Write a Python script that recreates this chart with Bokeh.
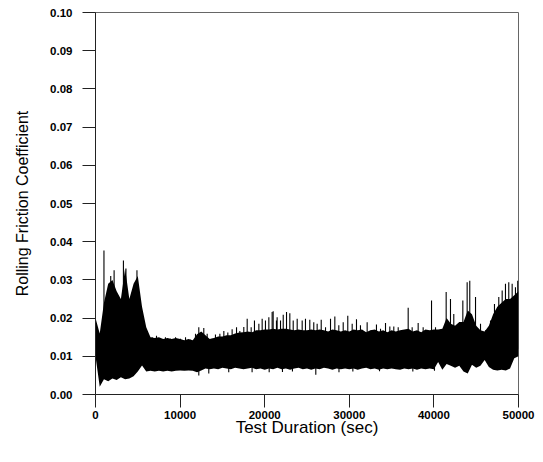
from bokeh.plotting import figure
from bokeh.embed import file_html
from bokeh.resources import INLINE
from bokeh.models import FixedTicker, PrintfTickFormatter, NumeralTickFormatter, Range1d

time_s = list(range(0, 50001, 500))
upper = [0.020, 0.016, 0.024, 0.029, 0.030, 0.027, 0.025, 0.033, 0.025, 0.029,
         0.031, 0.023, 0.0176, 0.015, 0.0148, 0.015, 0.0145, 0.0148, 0.0145, 0.0148,
         0.0145, 0.0142, 0.0145, 0.0142, 0.0158, 0.0165, 0.0155, 0.0145, 0.0148, 0.0152,
         0.0152, 0.0155, 0.0155, 0.016, 0.0162, 0.0163, 0.0165, 0.0163, 0.0168, 0.0168,
         0.017, 0.017, 0.0172, 0.017, 0.0172, 0.0172, 0.017, 0.0168, 0.017, 0.0168,
         0.0168, 0.017, 0.0168, 0.017, 0.0168, 0.0165, 0.017, 0.0168, 0.0165, 0.0168,
         0.0165, 0.017, 0.0168, 0.017, 0.0163, 0.0168, 0.017, 0.0165, 0.0168, 0.0163,
         0.0168, 0.0165, 0.0168, 0.017, 0.0172, 0.0165, 0.0168, 0.0163, 0.017, 0.0168,
         0.017, 0.017, 0.0172, 0.020, 0.0185, 0.018, 0.019, 0.019, 0.022, 0.021,
         0.018, 0.0168, 0.0165, 0.018, 0.021, 0.023, 0.024, 0.025, 0.025, 0.026,
         0.027]
lower = [0.010, 0.002, 0.004, 0.0035, 0.0042, 0.0038, 0.0045, 0.004, 0.0042, 0.0048,
         0.006, 0.0076, 0.006, 0.0062, 0.006, 0.0062, 0.006, 0.0062, 0.006, 0.0062,
         0.0063, 0.0062, 0.0063, 0.0062, 0.0058, 0.0063, 0.0068, 0.0066, 0.0068, 0.0066,
         0.007, 0.0068, 0.0066, 0.007, 0.0068, 0.0066, 0.0068, 0.007, 0.0066, 0.0068,
         0.0065, 0.0068, 0.0066, 0.007, 0.0066, 0.0068, 0.0065, 0.0068, 0.007, 0.0066,
         0.0068, 0.0065, 0.0068, 0.0066, 0.007, 0.0068, 0.0065, 0.0068, 0.0066, 0.0068,
         0.0066, 0.0068, 0.0065, 0.0068, 0.007, 0.0066, 0.0068, 0.0065, 0.0068, 0.0066,
         0.0068, 0.0066, 0.0065, 0.0068, 0.0066, 0.0068, 0.0065, 0.0068, 0.0066, 0.0068,
         0.0066, 0.0085, 0.0065, 0.008, 0.0075, 0.007, 0.0075, 0.006, 0.0055, 0.0078,
         0.007, 0.0075, 0.009, 0.0072, 0.0065, 0.0063, 0.0065, 0.0063, 0.0068, 0.0095,
         0.010]

# Upward spikes along the top of the trace (time, peak value)
spike_t = [1000, 1800, 2200, 3300, 3600, 4900,
           6700, 7210, 7680, 8270, 8860, 9460, 10050, 10640, 11230, 11820, 12210, 12490,
           12800, 13200, 13790, 14180, 14700, 15170, 15640, 16150, 16670, 17060, 17530,
           17930, 18400, 18790, 19310, 19700, 20090, 20490, 20880, 21390,
           21000, 21470, 21870, 22190, 22580, 22970, 23370, 23840, 24430, 24820, 25330,
           25800, 26200, 26680, 27190, 27780, 28290, 28760, 29280, 29820, 30340, 30850,
           31320, 32110, 32590, 33210, 33690, 34280, 34790, 35260, 35780, 36250, 36960,
           37430, 38140, 38730, 39200, 39720, 40190, 40780, 41450, 41960, 42350, 42940,
           43420, 43930, 44240, 44920, 45510, 46100, 46690, 47160, 47670, 48070, 48460,
           48850, 49250, 49640, 49910]
spike_y = [0.0377, 0.031, 0.0325, 0.0351, 0.033, 0.0325,
           0.0150, 0.0154, 0.0146, 0.0150, 0.0146, 0.0150, 0.0146, 0.0150, 0.0143, 0.0159,
           0.0176, 0.0154, 0.0174, 0.0159, 0.0146, 0.0157, 0.0159, 0.0166, 0.0162, 0.0171,
           0.0176, 0.0166, 0.0177, 0.0198, 0.0176, 0.0194, 0.0185, 0.0198, 0.0194, 0.0202,
           0.0216, 0.0194,
           0.0218, 0.0202, 0.0194, 0.0209, 0.0216, 0.0213, 0.0194, 0.0198, 0.0194, 0.0198,
           0.0196, 0.0189, 0.0185, 0.0196, 0.0176, 0.0198, 0.0204, 0.0181, 0.0189, 0.0206,
           0.0185, 0.0197, 0.0181, 0.0189, 0.0168, 0.0183, 0.0172, 0.0187, 0.0178, 0.0178,
           0.0176, 0.0168, 0.0227, 0.0176, 0.0187, 0.0176, 0.0163, 0.0246, 0.0176, 0.0168,
           0.0268, 0.025, 0.0211, 0.0168, 0.0246, 0.0294, 0.0298, 0.0255, 0.0185, 0.0168,
           0.0194, 0.0237, 0.0255, 0.0272, 0.029, 0.0294, 0.029, 0.0281, 0.0298]

# Downward spikes along the bottom of the trace (time, lowest value)
dip_t = [12210, 13390, 15750, 18510, 20530, 22100, 23280, 26040, 28780,
         30420, 33570, 37510, 40070]
dip_y = [0.0050, 0.0055, 0.0058, 0.0058, 0.0058, 0.0059, 0.0060, 0.0052, 0.0058,
         0.0060, 0.0061, 0.0060, 0.0062]

x_ticks = [0, 10000, 20000, 30000, 40000, 50000]
y_ticks = [0.00, 0.01, 0.02, 0.03, 0.04, 0.05, 0.06, 0.07, 0.08, 0.09, 0.10]
mid_level = 0.012

p = figure(width=535, height=454, output_backend="svg", toolbar_location=None,
           x_range=Range1d(0, 50000), y_range=Range1d(0, 0.10),
           min_border_left=95, min_border_right=17, min_border_top=12, min_border_bottom=60)

p.varea(x=time_s, y1=lower, y2=upper, fill_color="black")
p.segment(x0=spike_t, y0=[mid_level] * len(spike_t), x1=spike_t, y1=spike_y,
          line_color="black", line_width=1.1)
p.segment(x0=dip_t, y0=[mid_level] * len(dip_t), x1=dip_t, y1=dip_y,
          line_color="black", line_width=1.1)

p.xgrid.visible = False
p.ygrid.visible = False
p.outline_line_color = "#666666"
p.outline_line_width = 1

font = "Liberation Sans"
for ax in (p.xaxis[0], p.yaxis[0]):
    ax.axis_line_color = "#222222"
    ax.major_tick_line_color = "#222222"
    ax.major_tick_out = 13
    ax.major_tick_in = 0
    ax.minor_tick_out = 0
    ax.minor_tick_in = 0
    ax.major_label_text_font = font
    ax.major_label_text_font_size = "11.5px"
    ax.major_label_text_font_style = "bold"
    ax.major_label_text_color = "black"
    ax.axis_label_text_font = font
    ax.axis_label_text_font_style = "normal"
    ax.axis_label_text_color = "black"

p.xaxis.ticker = FixedTicker(ticks=x_ticks)
p.yaxis.ticker = FixedTicker(ticks=y_ticks)
p.xaxis.formatter = NumeralTickFormatter(format="0")
p.yaxis.formatter = PrintfTickFormatter(format="%.2f")
p.xaxis.axis_label = "Test Duration (sec)"
p.yaxis.axis_label = "Rolling Friction Coefficient"
p.xaxis.axis_label_text_font_size = "17px"
p.yaxis.axis_label_text_font_size = "16px"
p.xaxis.major_label_standoff = 3
p.yaxis.major_label_standoff = 10
p.xaxis.axis_label_standoff = -4
p.yaxis.axis_label_standoff = 16

open("out.html", "w").write(file_html(p, INLINE))
